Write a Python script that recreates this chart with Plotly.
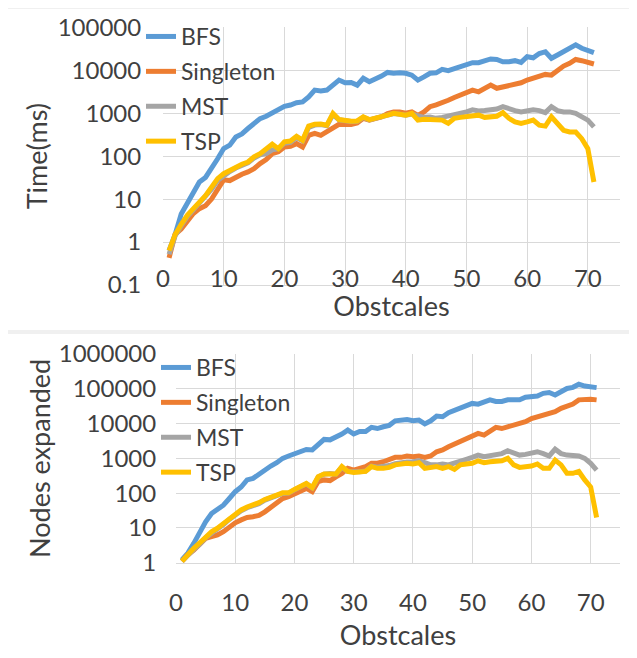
import plotly.graph_objects as go

x = list(range(1, 72))

# ---- Top panel: Time (ms) ----
time_bfs = [0.63, 1.5, 4.5, 8, 14, 25, 32, 50, 87, 150, 180, 280, 330, 440, 570, 750, 850, 1020, 1230, 1450,
            1550, 1750, 1830, 2400, 3450, 3300, 3450, 4500, 5900, 5100, 5200, 4500, 6500, 5400, 6100, 7300, 8900, 8500, 8700, 8500,
            7700, 5900, 7000, 8500, 8700, 10500, 9800, 11000, 11700, 13300, 15000, 15000, 16700, 18300, 17900, 15800, 15800, 16700, 15200, 20600,
            19500, 24500, 27000, 19000, 22700, 27000, 32500, 39000, 32500, 28500, 25700]
time_singleton = [0.43, 1.5, 2, 3.2, 4.6, 6, 7, 10, 16, 28, 27, 33, 38, 43, 51, 67, 83, 114, 126, 163,
                  170, 196, 163, 305, 340, 305, 366, 440, 550, 545, 545, 590, 760, 690, 760, 820, 980, 1070, 1070, 1000,
                  1070, 890, 1070, 1420, 1560, 1830, 2000, 2330, 2630, 2980, 3450, 3150, 3800, 4500, 3800, 4100, 4500, 4900, 5100, 5900,
                  6500, 7000, 8000, 7700, 10000, 12500, 14500, 17800, 16700, 15800, 14000]
time_mst = [0.52, 1.4, 2.4, 3.9, 5.6, 8, 11, 17, 27, 36, 44, 53, 62, 70, 90, 108, 115, 140, 150, 200,
            210, 270, 225, 470, 530, 545, 510, 930, 700, 650, 640, 650, 800, 700, 750, 800, 900, 980, 950, 900,
            960, 890, 800, 820, 760, 800, 850, 900, 950, 1070, 1200, 1130, 1150, 1200, 1250, 1420, 1250, 1150, 1070, 1150,
            1200, 1150, 1030, 1420, 1150, 1070, 1070, 990, 850, 690, 480]
time_tsp = [0.63, 1.5, 2.6, 4.2, 6, 8.5, 12, 19, 30, 39, 47, 56, 65, 73, 96, 114, 149, 190, 149, 215,
            225, 290, 235, 500, 550, 560, 525, 990, 710, 660, 650, 660, 820, 710, 760, 800, 900, 990, 950, 900,
            990, 690, 720, 710, 660, 690, 580, 760, 800, 850, 900, 900, 800, 850, 850, 1030, 760, 630, 580, 630,
            690, 525, 500, 820, 580, 400, 365, 365, 255, 150, 25]

# ---- Bottom panel: Nodes expanded ----
nodes_bfs = [1.2, 1.9, 3.6, 7.7, 15, 26, 33, 45, 70, 110, 150, 240, 265, 355, 460, 600, 750, 1000, 1170, 1390,
             1550, 1800, 1740, 2400, 3500, 3400, 4000, 5000, 6500, 5000, 5900, 5900, 7800, 7200, 8100, 8900, 12000, 12600, 13000, 12000,
             12600, 9800, 12000, 16500, 15700, 20500, 23500, 27500, 31500, 38000, 36000, 40000, 48000, 43000, 43000, 48000, 50000, 48000, 57000, 60000,
             62000, 74000, 78000, 66000, 83000, 102000, 110000, 135000, 120000, 115000, 108000]
nodes_singleton = [1.1, 1.7, 2.3, 3.5, 5, 5.6, 6.3, 7.8, 11, 14, 17, 20, 21, 23, 29, 40, 50, 70, 79, 93,
                   110, 137, 110, 215, 240, 230, 295, 370, 515, 460, 515, 580, 725, 725, 800, 890, 1070, 1070, 1170, 1120,
                   1170, 1070, 1170, 1550, 1740, 2150, 2570, 3200, 3700, 4350, 5200, 4650, 5900, 7800, 7200, 8100, 9100, 10000, 11300, 14000,
                   15800, 17600, 20600, 22000, 27500, 31500, 36500, 48000, 50000, 50000, 48000]
nodes_mst = [1.1, 1.7, 2.4, 3.4, 5.2, 7, 9, 12.5, 17.5, 24, 31, 38, 43, 50, 63, 76, 85, 98, 100, 124,
             148, 185, 142, 290, 350, 365, 350, 560, 420, 400, 410, 430, 600, 560, 580, 620, 700, 760, 790, 800,
             850, 750, 650, 650, 690, 650, 720, 850, 940, 1070, 1240, 1120, 1170, 1240, 1370, 1650, 1370, 1240, 1300, 1370,
             1550, 1370, 1170, 1830, 1370, 1240, 1240, 1170, 1000, 720, 460]
nodes_tsp = [1.1, 1.8, 2.6, 3.7, 5.6, 7.7, 9.8, 13.5, 18.7, 26, 33, 40, 45, 53, 66, 79, 88, 102, 102, 128,
             152, 190, 145, 295, 355, 370, 355, 580, 420, 390, 400, 420, 580, 515, 515, 550, 650, 690, 720, 690,
             750, 515, 550, 580, 515, 580, 480, 650, 690, 720, 850, 750, 800, 800, 850, 1000, 650, 550, 580, 600,
             690, 515, 515, 890, 650, 370, 370, 420, 240, 150, 20]

names = ["BFS", "Singleton", "MST", "TSP"]
colors = ["#5B9BD5", "#ED7D31", "#A5A5A5", "#FFC000"]

W, H = 637, 658
OFF = 8  # page body margin of the browser
FONT = "Lato"
TXT = "#404040"
GRID = "#D9D9D9"
CLEAR = "rgba(0,0,0,0)"

fig = go.Figure()

top_series = [time_bfs, time_singleton, time_mst, time_tsp]
bot_series = [nodes_bfs, nodes_singleton, nodes_mst, nodes_tsp]

for n, c, ys in zip(names, colors, top_series):
    fig.add_trace(go.Scatter(x=x, y=ys, mode="lines", name=n,
                             line=dict(color=c, width=5),
                             xaxis="x", yaxis="y", legend="legend",
                             legendgroup="t" + n))
for n, c, ys in zip(names, colors, bot_series):
    fig.add_trace(go.Scatter(x=x, y=ys, mode="lines", name=n,
                             line=dict(color=c, width=5),
                             xaxis="x2", yaxis="y2", legend="legend2",
                             legendgroup="b" + n))
# empty helper trace so the label-only overlay axis of the top panel is drawn
fig.add_trace(go.Scatter(x=[], y=[], mode="lines", xaxis="x3", yaxis="y",
                         showlegend=False, hoverinfo="skip"))

def px_x(p):
    return (p - OFF) / W

def px_y(p):
    return (H - (p - OFF)) / H

top_tickvals = [0.1, 1, 10, 100, 1000, 10000, 100000]
top_ticktext = ["0.1", "1", "10", "100", "1000", "10000", "100000"]
bot_tickvals = [1, 10, 100, 1000, 10000, 100000, 1000000]
bot_ticktext = ["1", "10", "100", "1000", "10000", "100000", "1000000"]
x_tickvals = [0, 10, 20, 30, 40, 50, 60, 70]

tickfont = dict(family=FONT, size=24, color=TXT)
titlefont = dict(family=FONT, size=27, color=TXT)
legfont = dict(family=FONT, size=23, color=TXT)

TOP_X = [px_x(163), px_x(620)]
BOT_X = [px_x(176), px_x(620)]

fig.update_layout(
    width=W, height=H,
    margin=dict(l=0, r=0, t=0, b=0, autoexpand=False),
    paper_bgcolor="white", plot_bgcolor="white",
    font=dict(family=FONT, color=TXT),
    xaxis=dict(domain=TOP_X, range=[0, 75.3], automargin=False,
               tickvals=x_tickvals, showgrid=True, gridcolor=GRID, gridwidth=1,
               zeroline=False, showline=True, linecolor=GRID, linewidth=1,
               showticklabels=False, ticks="", anchor="y",
               title=dict(text="Obstcales", font=titlefont, standoff=12)),
    xaxis3=dict(domain=TOP_X, range=[0, 75.3], automargin=False,
                overlaying="x", anchor="free", position=px_y(262),
                tickvals=x_tickvals, showgrid=False, zeroline=False, showline=False,
                ticks="", tickfont=tickfont),
    yaxis=dict(domain=[px_y(285), px_y(27.3)], type="log", range=[-1, 5],
               automargin=False,
               tickmode="array", tickvals=top_tickvals, ticktext=top_ticktext,
               showgrid=True, gridcolor=GRID, gridwidth=1, zeroline=False,
               showline=False, tickfont=tickfont,
               ticks="outside", ticklen=16, tickcolor=CLEAR,
               anchor="x",
               title=dict(text="Time(ms)", font=titlefont, standoff=2)),
    xaxis2=dict(domain=BOT_X, range=[0, 74.95], automargin=False,
                tickvals=x_tickvals, showgrid=True, gridcolor=GRID, gridwidth=1,
                zeroline=False, showline=True, linecolor=GRID, linewidth=1,
                tickfont=tickfont, ticks="outside", ticklen=18, tickcolor=CLEAR,
                anchor="y2",
                title=dict(text="Obstcales", font=titlefont, standoff=11)),
    yaxis2=dict(domain=[px_y(562.7), px_y(354)], type="log", range=[0, 6],
                automargin=False,
                tickmode="array", tickvals=bot_tickvals, ticktext=bot_ticktext,
                showgrid=True, gridcolor=GRID, gridwidth=1, zeroline=False,
                showline=False, tickfont=tickfont,
                ticks="outside", ticklen=14, tickcolor=CLEAR,
                anchor="x2",
                title=dict(text="Nodes expanded", font=titlefont, standoff=0)),
    legend=dict(x=px_x(141), y=px_y(15), xanchor="left", yanchor="top",
                bgcolor=CLEAR, font=legfont,
                traceorder="grouped", tracegroupgap=2, itemwidth=30),
    legend2=dict(x=px_x(156), y=px_y(346), xanchor="left", yanchor="top",
                 bgcolor=CLEAR, font=legfont,
                 traceorder="grouped", tracegroupgap=2, itemwidth=30),
    showlegend=True,
)

# Panel frames (light borders as in the source figure)
fig.add_shape(type="rect", xref="paper", yref="paper",
              x0=px_x(6), x1=px_x(660), y0=px_y(331), y1=px_y(8),
              line=dict(color="#EBEBEB", width=1.5), layer="below")
fig.add_shape(type="rect", xref="paper", yref="paper",
              x0=px_x(6), x1=px_x(660), y0=px_y(680), y1=px_y(333),
              line=dict(color="#EBEBEB", width=1.5), layer="below")

fig.write_html("out.html")
